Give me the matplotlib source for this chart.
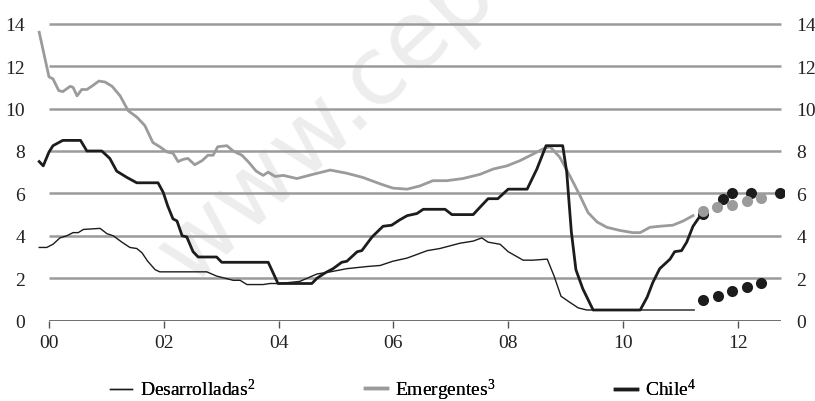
import matplotlib
matplotlib.use("Agg")
import matplotlib.pyplot as plt
from matplotlib.lines import Line2D

plt.rcParams['font.family'] = ['Liberation Serif', 'DejaVu Serif']
plt.rcParams['mathtext.fontset'] = 'custom'
plt.rcParams['mathtext.rm'] = 'Liberation Serif'
plt.rcParams['mathtext.it'] = 'Liberation Serif:italic'

# ---- data (years since 2000) ----
emer_x = [-0.17, 0, 0.07, 0.17, 0.24, 0.37, 0.42, 0.49, 0.57, 0.66, 0.77, 0.87, 0.98, 1.10, 1.24, 1.38,
          1.53, 1.67, 1.81, 1.93, 2.06, 2.16, 2.25, 2.33, 2.42, 2.54, 2.67, 2.77, 2.86, 2.94, 3.10, 3.21,
          3.36, 3.47, 3.61, 3.73, 3.82, 3.94, 4.08, 4.32, 4.60, 4.90, 5.19, 5.47, 5.77, 5.99, 6.24, 6.46,
          6.69, 6.93, 7.21, 7.51, 7.74, 7.98, 8.21, 8.43, 8.61, 8.73, 8.90, 9.08, 9.25, 9.39, 9.55, 9.72,
          9.95, 10.17, 10.30, 10.47, 10.64, 10.87, 11.05, 11.22]
emer_y = [13.6, 11.5, 11.4, 10.85, 10.8, 11.05, 11.0, 10.6, 10.9, 10.9, 11.1, 11.3, 11.25, 11.05, 10.6, 9.9,
          9.6, 9.2, 8.4, 8.2, 7.95, 7.9, 7.5, 7.6, 7.65, 7.35, 7.55, 7.8, 7.8, 8.2, 8.25, 8.0,
          7.8, 7.5, 7.05, 6.85, 7.0, 6.8, 6.85, 6.7, 6.9, 7.1, 6.95, 6.75, 6.45, 6.25, 6.2, 6.35,
          6.6, 6.6, 6.7, 6.9, 7.15, 7.3, 7.55, 7.85, 8.1, 8.2, 7.7, 6.8, 5.9, 5.1, 4.65, 4.4,
          4.25, 4.15, 4.15, 4.4, 4.45, 4.5, 4.7, 4.95]

chile_x = [-0.17, -0.10, 0, 0.07, 0.24, 0.55, 0.66, 0.92, 1.06, 1.18, 1.36, 1.53, 1.90, 1.99, 2.07, 2.16,
           2.23, 2.32, 2.40, 2.51, 2.60, 2.92, 3.01, 3.82, 3.99, 4.58, 4.67, 4.81, 4.95, 5.10, 5.19, 5.37,
           5.45, 5.63, 5.82, 5.97, 6.11, 6.24, 6.41, 6.52, 6.90, 7.02, 7.39, 7.51, 7.65, 7.82, 8.00, 8.33,
           8.50, 8.66, 8.95, 9.02, 9.10, 9.18, 9.30, 9.48, 10.30, 10.42, 10.52, 10.64, 10.82, 10.90, 11.02,
           11.11, 11.22, 11.36]
chile_y = [7.5, 7.3, 7.95, 8.25, 8.5, 8.5, 8.0, 8.0, 7.65, 7.05, 6.75, 6.5, 6.5, 6.05, 5.4, 4.8,
           4.7, 4.0, 3.95, 3.25, 3.0, 3.0, 2.75, 2.75, 1.75, 1.75, 2.0, 2.25, 2.45, 2.75, 2.8, 3.25,
           3.3, 3.95, 4.45, 4.5, 4.75, 4.95, 5.05, 5.25, 5.25, 5.0, 5.0, 5.35, 5.75, 5.75, 6.2, 6.2,
           7.15, 8.25, 8.25, 7.0, 4.2, 2.4, 1.5, 0.5, 0.5, 1.1, 1.8, 2.45, 2.9, 3.25, 3.3,
           3.7, 4.45, 5.0]

des_x = [-0.17, -0.04, 0.07, 0.19, 0.31, 0.42, 0.51, 0.60, 0.89, 1.01, 1.12, 1.27, 1.41, 1.53, 1.62, 1.72,
         1.85, 1.93, 2.75, 2.92, 3.21, 3.33, 3.45, 3.73, 3.85, 4.02, 4.37, 4.67, 4.90, 5.19, 5.54, 5.77,
         5.99, 6.24, 6.59, 6.81, 7.16, 7.39, 7.54, 7.65, 7.86, 8.00, 8.26, 8.43, 8.68, 8.80, 8.92, 9.08,
         9.22, 9.37, 11.24]
des_y = [3.45, 3.45, 3.6, 3.9, 4.0, 4.15, 4.15, 4.3, 4.35, 4.1, 4.0, 3.7, 3.45, 3.4, 3.2, 2.8,
         2.4, 2.3, 2.3, 2.1, 1.9, 1.9, 1.7, 1.7, 1.75, 1.75, 1.85, 2.2, 2.3, 2.45, 2.55, 2.6,
         2.8, 2.95, 3.3, 3.4, 3.65, 3.75, 3.9, 3.7, 3.6, 3.25, 2.85, 2.85, 2.9, 2.1, 1.15, 0.85,
         0.6, 0.5, 0.5]

# expectations (dots)
chile_fx = [11.39, 11.74, 11.90, 12.23, 12.73]
chile_fy = [5.05, 5.75, 6.0, 6.0, 6.0]
emer_fx = [11.39, 11.64, 11.90, 12.16, 12.40]
emer_fy = [5.15, 5.35, 5.45, 5.65, 5.8]
des_fx = [11.39, 11.65, 11.90, 12.16, 12.40]
des_fy = [0.97, 1.15, 1.4, 1.6, 1.75]

yticks = [0, 2, 4, 6, 8, 10, 12, 14]
xticks = [0, 2, 4, 6, 8, 10, 12]
xlabels = ['00', '02', '04', '06', '08', '10', '12']

labels = ['Desarrolladas$^{2}$', 'Emergentes$^{3}$', 'Chile$^{4}$']

# ---- figure ----
fig = plt.figure(figsize=(8.15, 4.02), dpi=100)
ax = fig.add_axes([0.046, 0.2, 0.9156, 0.7647])
ax.set_xlim(-0.2, 12.8)
ax.set_ylim(0, 14.5)

grey = '#9b9b9b'
black = '#1c1c1c'

# watermark
fig.text(0.2325, 0.2866, 'www.cep', family='DejaVu Sans', fontsize=68, color='#ededed',
         rotation=43, rotation_mode='anchor', ha='left', va='baseline', zorder=-1)
ax.patch.set_alpha(0)

ax.hlines(yticks[1:], 0, 12.75, colors=grey, lw=1.8, zorder=1)
ax.hlines([0], 0, 12.75, colors='#555555', lw=1.2, zorder=1)

ax.plot(des_x, des_y, color=black, lw=1.0, zorder=3)
ax.plot(emer_x, emer_y, color=grey, lw=2.0, zorder=3)
ax.plot(chile_x, chile_y, color=black, lw=2.0, zorder=4)

ax.plot(des_fx, des_fy, 'o', color=black, ms=8, mec='none', zorder=5)
ax.plot(chile_fx, chile_fy, 'o', color=black, ms=8, mec='none', zorder=5)
ax.plot(emer_fx, emer_fy, 'o', color=grey, ms=8, mec='none', zorder=6)

for s in ax.spines.values():
    s.set_visible(False)

ax.set_yticks(yticks)
ax.set_yticklabels([str(v) for v in yticks])
ax.set_xticks(xticks)
ax.set_xticklabels(xlabels)
ax.tick_params(axis='y', length=0, labelsize=14, pad=9, labelright=True, labelcolor='#222222')
ax.tick_params(axis='x', length=5, width=1.0, color='#555555', direction='out', labelsize=14, pad=5,
               labelcolor='#222222')

# legend (three separate entries)
handles = [Line2D([], [], color=black, lw=1.0),
           Line2D([], [], color=grey, lw=2.5),
           Line2D([], [], color=black, lw=2.5)]
xpos = [0.135, 0.448, 0.7546]
for h, lab, xp in zip(handles, labels, xpos):
    lg = fig.legend([h], [lab], loc='center left', bbox_to_anchor=(xp, 0.03), frameon=False,
                    handlelength=1.15, handletextpad=0.4, fontsize=14, borderaxespad=0, borderpad=0)
    fig.add_artist(lg)

fig.savefig('out.png', dpi=100)
